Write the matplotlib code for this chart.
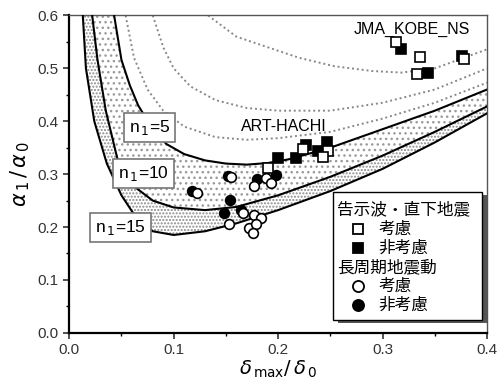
import matplotlib
matplotlib.use("Agg")
import matplotlib.pyplot as plt
from matplotlib.ticker import MultipleLocator
from matplotlib.patches import Rectangle

plt.rcParams['font.family'] = ['Liberation Sans', 'Noto Sans CJK JP', 'DejaVu Sans']
plt.rcParams['hatch.linewidth'] = 1.0
plt.rcParams['hatch.color'] = '#8a8a8a'

# solid curves
n5_x = [0.043, 0.050, 0.058, 0.066, 0.080, 0.093, 0.110, 0.130, 0.150, 0.170, 0.190, 0.210, 0.250, 0.300, 0.350, 0.400]
n5_y = [0.600, 0.516, 0.468, 0.430, 0.385, 0.357, 0.338, 0.326, 0.320, 0.318, 0.321, 0.328, 0.350, 0.385, 0.420, 0.460]
n10_x = [0.022, 0.027, 0.035, 0.046, 0.060, 0.080, 0.100, 0.130, 0.160, 0.200, 0.250, 0.300, 0.350, 0.400]
n10_y = [0.600, 0.517, 0.420, 0.330, 0.280, 0.250, 0.237, 0.232, 0.238, 0.260, 0.295, 0.335, 0.380, 0.428]
n15_x = [0.013, 0.016, 0.024, 0.036, 0.050, 0.065, 0.080, 0.100, 0.130, 0.160, 0.200, 0.250, 0.300, 0.350, 0.400]
n15_y = [0.600, 0.500, 0.400, 0.320, 0.260, 0.215, 0.192, 0.185, 0.192, 0.207, 0.232, 0.268, 0.310, 0.360, 0.415]

# dotted curves inside n1=5
d3_x = [0.054, 0.062, 0.075, 0.090, 0.110, 0.140, 0.170, 0.200, 0.250, 0.300, 0.350, 0.400]
d3_y = [0.600, 0.520, 0.460, 0.420, 0.390, 0.370, 0.365, 0.368, 0.380, 0.405, 0.435, 0.473]
d2_x = [0.080, 0.090, 0.100, 0.116, 0.140, 0.170, 0.200, 0.250, 0.300, 0.350, 0.400]
d2_y = [0.600, 0.540, 0.500, 0.466, 0.440, 0.425, 0.420, 0.420, 0.435, 0.460, 0.500]
d1_x = [0.133, 0.160, 0.190, 0.220, 0.254, 0.290, 0.318, 0.350, 0.400]
d1_y = [0.600, 0.560, 0.540, 0.520, 0.504, 0.495, 0.492, 0.500, 0.536]

# 告示波・直下地震
sq_open_x = [0.313, 0.336, 0.333, 0.378, 0.190, 0.224, 0.248, 0.243]
sq_open_y = [0.549, 0.521, 0.489, 0.517, 0.312, 0.347, 0.343, 0.333]
sq_fill_x = [0.318, 0.343, 0.376, 0.200, 0.217, 0.227, 0.238, 0.247]
sq_fill_y = [0.536, 0.492, 0.523, 0.331, 0.330, 0.356, 0.343, 0.360]
# 長周期地震動
ci_open_x = [0.122, 0.155, 0.177, 0.188, 0.193, 0.153, 0.166, 0.177, 0.184, 0.172, 0.179, 0.176]
ci_open_y = [0.265, 0.295, 0.277, 0.293, 0.284, 0.205, 0.227, 0.223, 0.218, 0.199, 0.205, 0.189]
ci_fill_x = [0.118, 0.152, 0.180, 0.198, 0.154, 0.148, 0.164]
ci_fill_y = [0.268, 0.297, 0.290, 0.299, 0.252, 0.227, 0.233]

fig = plt.figure(figsize=(4.98, 3.87), dpi=100)
ax = fig.add_axes([0.139, 0.14, 0.839, 0.82])

# shaded bands
ax.fill(n5_x + n10_x[::-1], n5_y + n10_y[::-1], facecolor='none', edgecolor='#9a9a9a',
        linewidth=0, hatch='...', zorder=1)
ax.fill(n10_x + n15_x[::-1], n10_y + n15_y[::-1], facecolor='none', edgecolor='#8a8a8a',
        linewidth=0, hatch='.....', zorder=1)

for xs, ys in [(d1_x, d1_y), (d2_x, d2_y), (d3_x, d3_y)]:
    ax.plot(xs, ys, color='#888888', lw=1.4, ls=(0, (1, 1.5)), zorder=2)
for xs, ys in [(n5_x, n5_y), (n10_x, n10_y), (n15_x, n15_y)]:
    ax.plot(xs, ys, color='black', lw=1.5, zorder=3)

box = dict(boxstyle='square,pad=0.3', fc='white', ec='#777777', lw=1.2)
ax.text(0.077, 0.388, r'n$_{\,1}$=5', fontsize=12.5, ha='center', va='center', bbox=box, zorder=5)
ax.text(0.071, 0.301, r'n$_{\,1}$=10', fontsize=12.5, ha='center', va='center', bbox=box, zorder=5)
ax.text(0.049, 0.199, r'n$_{\,1}$=15', fontsize=12.5, ha='center', va='center', bbox=box, zorder=5)

ax.text(0.328, 0.574, 'JMA_KOBE_NS', fontsize=11.5, ha='center', va='center', zorder=5)
ax.text(0.164, 0.390, 'ART-HACHI', fontsize=11.5, ha='left', va='center', zorder=5)

ax.plot(ci_fill_x, ci_fill_y, 'o', ms=7, mfc='black', mec='black', mew=1.2, ls='none', zorder=6)
ax.plot(ci_open_x, ci_open_y, 'o', ms=7, mfc='white', mec='black', mew=1.2, ls='none', zorder=6)
ax.plot(sq_fill_x, sq_fill_y, 's', ms=6.5, mfc='black', mec='black', mew=1.2, ls='none', zorder=6)
ax.plot(sq_open_x, sq_open_y, 's', ms=6.5, mfc='white', mec='black', mew=1.2, ls='none', zorder=6)

# legend drawn by hand
tr = ax.transAxes
ax.add_patch(Rectangle((0.643, 0.03), 0.357, 0.405, transform=tr, fc='#555555', ec='none', zorder=7))
ax.add_patch(Rectangle((0.632, 0.04), 0.357, 0.405, transform=tr, fc='white', ec='black', lw=1.0, zorder=8))
jp = ['Noto Sans CJK JP']
rows = [0.389, 0.326, 0.268, 0.206, 0.146, 0.088]
ax.text(0.642, rows[0], '告示波・直下地震', transform=tr, family=jp, fontsize=12, va='center', zorder=9)
ax.text(0.642, rows[3], '長周期地震動', transform=tr, family=jp, fontsize=12, va='center', zorder=9)
ax.plot([0.69], [rows[1]], 's', transform=tr, ms=7, mfc='white', mec='black', mew=1.3, zorder=9)
ax.plot([0.69], [rows[2]], 's', transform=tr, ms=7, mfc='black', mec='black', mew=1.3, zorder=9)
ax.plot([0.69], [rows[4]], 'o', transform=tr, ms=8, mfc='white', mec='black', mew=1.3, zorder=9)
ax.plot([0.69], [rows[5]], 'o', transform=tr, ms=8, mfc='black', mec='black', mew=1.3, zorder=9)
for r, t in [(rows[1], '考慮'), (rows[2], '非考慮'), (rows[4], '考慮'), (rows[5], '非考慮')]:
    ax.text(0.74, r, t, transform=tr, family=jp, fontsize=12, va='center', zorder=9)

ax.set_xlim(0, 0.4)
ax.set_ylim(0, 0.6)
ax.xaxis.set_major_locator(MultipleLocator(0.1))
ax.xaxis.set_minor_locator(MultipleLocator(0.05))
ax.yaxis.set_major_locator(MultipleLocator(0.1))
ax.yaxis.set_minor_locator(MultipleLocator(0.05))
ax.xaxis.set_major_formatter(lambda v, p: f'{v:.1f}')
ax.yaxis.set_major_formatter(lambda v, p: f'{v:.1f}')
ax.tick_params(labelsize=11, colors='#333333', width=1.2, length=4)
ax.tick_params(which='minor', length=2.5, width=1)
for s in ['left', 'bottom']:
    ax.spines[s].set_linewidth(1.6)
for s in ['top', 'right']:
    ax.spines[s].set_linewidth(1.0)
    ax.spines[s].set_color('#555555')

ax.set_xlabel(r'$\delta_{\,\mathrm{max}}/\,\delta_{\,0}$', fontsize=14, labelpad=1)
ax.set_ylabel(r'$\alpha_{\,1}\,/\,\alpha_{\,0}$', fontsize=15, labelpad=4)

fig.savefig('out.png', dpi=100)
